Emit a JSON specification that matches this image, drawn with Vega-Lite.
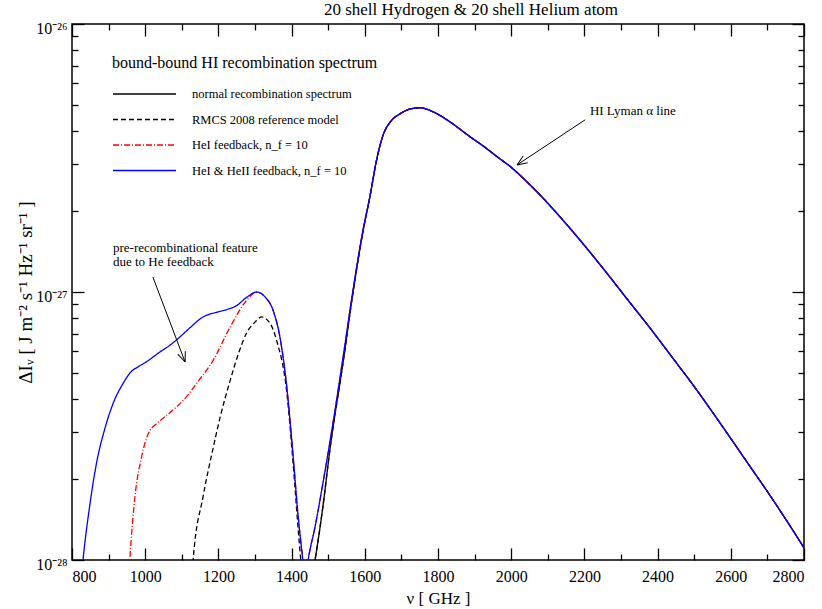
{
  "$schema": "https://vega.github.io/schema/vega-lite/v6.json",
  "width": 732,
  "height": 536,
  "autosize": "none",
  "padding": {"left": 72, "top": 24, "right": 18, "bottom": 49},
  "background": "white",
  "config": {
    "view": {"stroke": "black", "strokeWidth": 1.5},
    "font": "Liberation Serif",
    "axis": {"grid": false, "domain": false, "tickColor": "black", "labelColor": "black", "titleColor": "black", "labelFont": "Liberation Serif", "titleFont": "Liberation Serif", "titleFontWeight": "normal", "tickWidth": 1.3}
  },
  "title": {"text": "20 shell Hydrogen & 20 shell Helium atom", "anchor": "middle", "dx": 33, "offset": 1, "fontSize": 17, "font": "Liberation Serif", "fontWeight": "normal", "color": "black"},
  "resolve": {"axis": {"x": "independent", "y": "independent"}},
  "datasets": {
    "curves": [
      {"s":"N","nu":1455,"I":8.5e-29},{"s":"N","nu":1464,"I":1e-28},{"s":"N","nu":1486,"I":1.6e-28},{"s":"N","nu":1505,"I":2.6e-28},{"s":"N","nu":1541,"I":5.5e-28},{"s":"N","nu":1568,"I":1.0e-27},{"s":"N","nu":1595,"I":1.68e-27},
      {"s":"N","nu":1614,"I":2.27e-27},{"s":"N","nu":1632,"I":3.1e-27},{"s":"N","nu":1650,"I":3.85e-27},{"s":"N","nu":1672,"I":4.35e-27},{"s":"N","nu":1696,"I":4.62e-27},{"s":"N","nu":1720,"I":4.8e-27},{"s":"N","nu":1751,"I":4.87e-27},{"s":"N","nu":1787,"I":4.7e-27},{"s":"N","nu":1833,"I":4.31e-27},{"s":"N","nu":1887,"I":3.8e-27},{"s":"N","nu":1923,"I":3.51e-27},{"s":"N","nu":1960,"I":3.21e-27},{"s":"N","nu":2005,"I":2.88e-27},{"s":"N","nu":2040,"I":2.6e-27},{"s":"N","nu":2087,"I":2.24e-27},{"s":"N","nu":2133,"I":1.91e-27},{"s":"N","nu":2190,"I":1.55e-27},{"s":"N","nu":2251,"I":1.225e-27},{"s":"N","nu":2319,"I":9.33e-28},{"s":"N","nu":2371,"I":7.59e-28},{"s":"N","nu":2450,"I":5.47e-28},{"s":"N","nu":2500,"I":4.44e-28},{"s":"N","nu":2550,"I":3.56e-28},{"s":"N","nu":2600,"I":2.84e-28},{"s":"N","nu":2650,"I":2.26e-28},{"s":"N","nu":2700,"I":1.8e-28},{"s":"N","nu":2750,"I":1.42e-28},{"s":"N","nu":2800,"I":1.11e-28},

      {"s":"R","nu":1128,"I":8.5e-29},{"s":"R","nu":1131,"I":1e-28},{"s":"R","nu":1158,"I":1.72e-28},{"s":"R","nu":1186,"I":2.63e-28},{"s":"R","nu":1205,"I":3.42e-28},{"s":"R","nu":1232,"I":4.67e-28},{"s":"R","nu":1255,"I":5.9e-28},{"s":"R","nu":1277,"I":7.03e-28},{"s":"R","nu":1300,"I":7.72e-28},{"s":"R","nu":1318,"I":8.07e-28},{"s":"R","nu":1341,"I":7.65e-28},{"s":"R","nu":1359,"I":6.6e-28},{"s":"R","nu":1387,"I":4.2e-28},{"s":"R","nu":1404,"I":2.3e-28},{"s":"R","nu":1418,"I":1.3e-28},{"s":"R","nu":1425,"I":1.0e-28},{"s":"R","nu":1433,"I":8e-29},
      {"s":"R","nu":1455,"I":8.5e-29},{"s":"R","nu":1464,"I":1e-28},{"s":"R","nu":1486,"I":1.6e-28},{"s":"R","nu":1505,"I":2.6e-28},{"s":"R","nu":1541,"I":5.5e-28},{"s":"R","nu":1568,"I":1.0e-27},{"s":"R","nu":1595,"I":1.68e-27},
      {"s":"R","nu":1614,"I":2.27e-27},{"s":"R","nu":1632,"I":3.1e-27},{"s":"R","nu":1650,"I":3.85e-27},{"s":"R","nu":1672,"I":4.35e-27},{"s":"R","nu":1696,"I":4.62e-27},{"s":"R","nu":1720,"I":4.8e-27},{"s":"R","nu":1751,"I":4.87e-27},{"s":"R","nu":1787,"I":4.7e-27},{"s":"R","nu":1833,"I":4.31e-27},{"s":"R","nu":1887,"I":3.8e-27},{"s":"R","nu":1923,"I":3.51e-27},{"s":"R","nu":1960,"I":3.21e-27},{"s":"R","nu":2005,"I":2.88e-27},{"s":"R","nu":2040,"I":2.6e-27},{"s":"R","nu":2087,"I":2.24e-27},{"s":"R","nu":2133,"I":1.91e-27},{"s":"R","nu":2190,"I":1.55e-27},{"s":"R","nu":2251,"I":1.225e-27},{"s":"R","nu":2319,"I":9.33e-28},{"s":"R","nu":2371,"I":7.59e-28},{"s":"R","nu":2450,"I":5.47e-28},{"s":"R","nu":2500,"I":4.44e-28},{"s":"R","nu":2550,"I":3.56e-28},{"s":"R","nu":2600,"I":2.84e-28},{"s":"R","nu":2650,"I":2.26e-28},{"s":"R","nu":2700,"I":1.8e-28},{"s":"R","nu":2750,"I":1.42e-28},{"s":"R","nu":2800,"I":1.11e-28},

      {"s":"H1","nu":955,"I":8.5e-29},{"s":"H1","nu":958,"I":1e-28},{"s":"H1","nu":972,"I":1.72e-28},{"s":"H1","nu":990,"I":2.42e-28},{"s":"H1","nu":1013,"I":3.05e-28},{"s":"H1","nu":1027,"I":3.19e-28},{"s":"H1","nu":1059,"I":3.47e-28},{"s":"H1","nu":1086,"I":3.73e-28},{"s":"H1","nu":1113,"I":4.07e-28},{"s":"H1","nu":1141,"I":4.57e-28},{"s":"H1","nu":1186,"I":5.57e-28},{"s":"H1","nu":1232,"I":7.4e-28},{"s":"H1","nu":1277,"I":9.3e-28},{"s":"H1","nu":1305,"I":1.0e-27},
      {"s":"H1","nu":1327,"I":9.6e-28},{"s":"H1","nu":1350,"I":8.5e-28},{"s":"H1","nu":1368,"I":6.8e-28},{"s":"H1","nu":1387,"I":4.4e-28},{"s":"H1","nu":1404,"I":2.45e-28},{"s":"H1","nu":1418,"I":1.45e-28},{"s":"H1","nu":1428,"I":1.08e-28},{"s":"H1","nu":1437,"I":8.5e-29},{"s":"H1","nu":1445,"I":1e-28},{"s":"H1","nu":1465,"I":1.35e-28},{"s":"H1","nu":1486,"I":1.95e-28},{"s":"H1","nu":1514,"I":3.3e-28},{"s":"H1","nu":1541,"I":5.75e-28},{"s":"H1","nu":1568,"I":1.02e-27},{"s":"H1","nu":1595,"I":1.7e-27},
      {"s":"H1","nu":1614,"I":2.27e-27},{"s":"H1","nu":1632,"I":3.1e-27},{"s":"H1","nu":1650,"I":3.85e-27},{"s":"H1","nu":1672,"I":4.35e-27},{"s":"H1","nu":1696,"I":4.62e-27},{"s":"H1","nu":1720,"I":4.8e-27},{"s":"H1","nu":1751,"I":4.87e-27},{"s":"H1","nu":1787,"I":4.7e-27},{"s":"H1","nu":1833,"I":4.31e-27},{"s":"H1","nu":1887,"I":3.8e-27},{"s":"H1","nu":1923,"I":3.51e-27},{"s":"H1","nu":1960,"I":3.21e-27},{"s":"H1","nu":2005,"I":2.88e-27},{"s":"H1","nu":2040,"I":2.6e-27},{"s":"H1","nu":2087,"I":2.24e-27},{"s":"H1","nu":2133,"I":1.91e-27},{"s":"H1","nu":2190,"I":1.55e-27},{"s":"H1","nu":2251,"I":1.225e-27},{"s":"H1","nu":2319,"I":9.33e-28},{"s":"H1","nu":2371,"I":7.59e-28},{"s":"H1","nu":2450,"I":5.47e-28},{"s":"H1","nu":2500,"I":4.44e-28},{"s":"H1","nu":2550,"I":3.56e-28},{"s":"H1","nu":2600,"I":2.84e-28},{"s":"H1","nu":2650,"I":2.26e-28},{"s":"H1","nu":2700,"I":1.8e-28},{"s":"H1","nu":2750,"I":1.42e-28},{"s":"H1","nu":2800,"I":1.11e-28},

      {"s":"H2","nu":825,"I":8.5e-29},{"s":"H2","nu":830,"I":1e-28},{"s":"H2","nu":848,"I":1.58e-28},{"s":"H2","nu":867,"I":2.3e-28},{"s":"H2","nu":890,"I":3.1e-28},{"s":"H2","nu":913,"I":3.86e-28},{"s":"H2","nu":940,"I":4.57e-28},{"s":"H2","nu":962,"I":5.05e-28},{"s":"H2","nu":980,"I":5.25e-28},{"s":"H2","nu":1004,"I":5.5e-28},{"s":"H2","nu":1040,"I":5.97e-28},{"s":"H2","nu":1068,"I":6.34e-28},{"s":"H2","nu":1095,"I":6.8e-28},{"s":"H2","nu":1122,"I":7.35e-28},{"s":"H2","nu":1158,"I":8.07e-28},{"s":"H2","nu":1195,"I":8.4e-28},{"s":"H2","nu":1223,"I":8.6e-28},{"s":"H2","nu":1250,"I":8.9e-28},{"s":"H2","nu":1277,"I":9.55e-28},{"s":"H2","nu":1305,"I":1.0e-27},
      {"s":"H2","nu":1327,"I":9.6e-28},{"s":"H2","nu":1350,"I":8.5e-28},{"s":"H2","nu":1368,"I":6.8e-28},{"s":"H2","nu":1387,"I":4.4e-28},{"s":"H2","nu":1404,"I":2.45e-28},{"s":"H2","nu":1418,"I":1.45e-28},{"s":"H2","nu":1428,"I":1.08e-28},{"s":"H2","nu":1437,"I":8.5e-29},{"s":"H2","nu":1445,"I":1e-28},{"s":"H2","nu":1465,"I":1.35e-28},{"s":"H2","nu":1486,"I":1.95e-28},{"s":"H2","nu":1514,"I":3.3e-28},{"s":"H2","nu":1541,"I":5.75e-28},{"s":"H2","nu":1568,"I":1.02e-27},{"s":"H2","nu":1595,"I":1.7e-27},
      {"s":"H2","nu":1614,"I":2.27e-27},{"s":"H2","nu":1632,"I":3.1e-27},{"s":"H2","nu":1650,"I":3.85e-27},{"s":"H2","nu":1672,"I":4.35e-27},{"s":"H2","nu":1696,"I":4.62e-27},{"s":"H2","nu":1720,"I":4.8e-27},{"s":"H2","nu":1751,"I":4.87e-27},{"s":"H2","nu":1787,"I":4.7e-27},{"s":"H2","nu":1833,"I":4.31e-27},{"s":"H2","nu":1887,"I":3.8e-27},{"s":"H2","nu":1923,"I":3.51e-27},{"s":"H2","nu":1960,"I":3.21e-27},{"s":"H2","nu":2005,"I":2.88e-27},{"s":"H2","nu":2040,"I":2.6e-27},{"s":"H2","nu":2087,"I":2.24e-27},{"s":"H2","nu":2133,"I":1.91e-27},{"s":"H2","nu":2190,"I":1.55e-27},{"s":"H2","nu":2251,"I":1.225e-27},{"s":"H2","nu":2319,"I":9.33e-28},{"s":"H2","nu":2371,"I":7.59e-28},{"s":"H2","nu":2450,"I":5.47e-28},{"s":"H2","nu":2500,"I":4.44e-28},{"s":"H2","nu":2550,"I":3.56e-28},{"s":"H2","nu":2600,"I":2.84e-28},{"s":"H2","nu":2650,"I":2.26e-28},{"s":"H2","nu":2700,"I":1.8e-28},{"s":"H2","nu":2750,"I":1.42e-28},{"s":"H2","nu":2800,"I":1.11e-28}
    ],
    "anchor": [{"nu": 1000, "I": 1e-27}],
    "arrows": [
      {"a": "pre", "x": 1021, "y": 1.137e-27, "x2": 1109, "y2": 5.48e-28},
      {"a": "lya", "x": 2202, "y": 4.39e-27, "x2": 2016, "y2": 2.98e-27}
    ],
    "labels": [
      {"a": "pre", "x": 912, "y": 1.41e-27, "t": "pre-recombinational feature\ndue to He feedback"},
      {"a": "lya", "x": 2215, "y": 4.57e-27, "t": "HI Lyman α line"}
    ]
  },
  "layer": [
    {
      "data": {"name": "curves"},
      "mark": {"type": "line", "strokeWidth": 1.3, "clip": true, "interpolate": "monotone"},
      "encoding": {
        "x": {"field": "nu", "type": "quantitative", "scale": {"domain": [800, 2800], "nice": false, "zero": false},
          "axis": {"orient": "bottom", "values": [800,1000,1200,1400,1600,1800,2000,2200,2400,2600,2800], "format": "d", "tickSize": -12, "labelFont": "Liberation Serif", "labelFontSize": 16, "labelPadding": 20, "title": "ν [ GHz ]", "titleFont": "Liberation Serif", "titleFontSize": 17, "titleY": 43, "titleBaseline": "alphabetic"}},
        "y": {"field": "I", "type": "quantitative", "scale": {"type": "log", "domain": [1e-28, 1e-26], "nice": false},
          "axis": {"orient": "left", "values": [1e-28, 1e-27, 1e-26], "tickSize": -12, "labelFont": "Liberation Serif", "labelFontSize": 16, "labelPadding": 17, "labelOffset": 4, "labelExpr": "datum.value > 5e-27 ? '10⁻²⁶' : datum.value > 5e-28 ? '10⁻²⁷' : '10⁻²⁸'", "title": "ΔIᵥ [ J m⁻² s⁻¹ Hz⁻¹ sr⁻¹ ]", "titleFont": "Liberation Serif", "titleFontSize": 19, "titleX": -41, "titleY": 268, "titleBaseline": "alphabetic"}},
        "color": {"field": "s", "type": "nominal", "scale": {"domain": ["N", "R", "H1", "H2"], "range": ["black", "black", "red", "blue"]},
          "legend": {"orient": "none", "legendX": 40, "legendY": 31, "title": "bound-bound HI recombination spectrum", "titleLimit": 500, "titleFont": "Liberation Serif", "titleFontSize": 16, "titleFontWeight": "normal", "titleColor": "black", "titlePadding": 16, "labelFont": "Liberation Serif", "labelFontSize": 12.5, "labelColor": "black", "labelLimit": 400, "symbolType": "stroke", "symbolSize": 3969, "symbolStrokeWidth": 1.3, "clipHeight": 14, "rowPadding": 11.5, "labelOffset": 15,
            "labelExpr": "datum.label == 'N' ? 'normal recombination spectrum' : datum.label == 'R' ? 'RMCS 2008 reference model' : datum.label == 'H1' ? 'HeI feedback, n_f = 10' : 'HeI & HeII feedback, n_f = 10'"}},
        "strokeDash": {"field": "s", "type": "nominal", "scale": {"domain": ["N", "R", "H1", "H2"], "range": [[1, 0], [5, 3], [6, 2, 1, 2], [1, 0]]},
          "legend": {"orient": "none", "legendX": 40, "legendY": 31, "title": "bound-bound HI recombination spectrum", "titleLimit": 500, "titleFont": "Liberation Serif", "titleFontSize": 16, "titleFontWeight": "normal", "titleColor": "black", "titlePadding": 16, "labelFont": "Liberation Serif", "labelFontSize": 12.5, "labelColor": "black", "labelLimit": 400, "symbolType": "stroke", "symbolSize": 3969, "symbolStrokeWidth": 1.3, "clipHeight": 14, "rowPadding": 11.5, "labelOffset": 15,
            "labelExpr": "datum.label == 'N' ? 'normal recombination spectrum' : datum.label == 'R' ? 'RMCS 2008 reference model' : datum.label == 'H1' ? 'HeI feedback, n_f = 10' : 'HeI & HeII feedback, n_f = 10'"}}
      }
    },
    {
      "data": {"name": "anchor"},
      "mark": {"type": "point", "opacity": 0},
      "encoding": {
        "x": {"field": "nu", "type": "quantitative", "scale": {"domain": [800, 2800], "nice": false, "zero": false},
          "axis": {"orient": "bottom", "values": [900,1100,1300,1500,1700,1900,2100,2300,2500,2700], "tickSize": -6, "labels": false, "title": null}},
        "y": {"field": "I", "type": "quantitative", "scale": {"type": "log", "domain": [1e-28, 1e-26], "nice": false},
          "axis": {"orient": "left", "values": [2e-28,3e-28,4e-28,5e-28,6e-28,7e-28,8e-28,9e-28,2e-27,3e-27,4e-27,5e-27,6e-27,7e-27,8e-27,9e-27], "tickSize": -6, "labels": false, "title": null}}
      }
    },
    {
      "data": {"name": "anchor"},
      "mark": {"type": "point", "opacity": 0},
      "encoding": {
        "x": {"field": "nu", "type": "quantitative", "scale": {"domain": [800, 2800], "nice": false, "zero": false},
          "axis": {"orient": "top", "values": [800,1000,1200,1400,1600,1800,2000,2200,2400,2600,2800], "tickSize": -12, "labels": false, "title": null}},
        "y": {"field": "I", "type": "quantitative", "scale": {"type": "log", "domain": [1e-28, 1e-26], "nice": false},
          "axis": {"orient": "right", "values": [1e-28, 1e-27, 1e-26], "tickSize": -12, "labels": false, "title": null}}
      }
    },
    {
      "data": {"name": "anchor"},
      "mark": {"type": "point", "opacity": 0},
      "encoding": {
        "x": {"field": "nu", "type": "quantitative", "scale": {"domain": [800, 2800], "nice": false, "zero": false},
          "axis": {"orient": "top", "values": [900,1100,1300,1500,1700,1900,2100,2300,2500,2700], "tickSize": -6, "labels": false, "title": null}},
        "y": {"field": "I", "type": "quantitative", "scale": {"type": "log", "domain": [1e-28, 1e-26], "nice": false},
          "axis": {"orient": "right", "values": [2e-28,3e-28,4e-28,5e-28,6e-28,7e-28,8e-28,9e-28,2e-27,3e-27,4e-27,5e-27,6e-27,7e-27,8e-27,9e-27], "tickSize": -6, "labels": false, "title": null}}
      }
    },
    {
      "data": {"name": "arrows"},
      "mark": {"type": "rule", "color": "black", "strokeWidth": 1},
      "encoding": {
        "x": {"field": "x", "type": "quantitative", "axis": null},
        "y": {"field": "y", "type": "quantitative", "scale": {"type": "log"}, "axis": null},
        "x2": {"field": "x2"},
        "y2": {"field": "y2"}
      }
    },
    {
      "data": {"name": "arrows"},
      "transform": [{"filter": "datum.a == 'pre'"}],
      "mark": {"type": "point", "shape": "M0,0L-1,-0.4M0,0L-1,0.4", "size": 400, "filled": false, "stroke": "black", "strokeWidth": 1, "opacity": 1, "angle": 69.4},
      "encoding": {
        "x": {"field": "x2", "type": "quantitative", "axis": null},
        "y": {"field": "y2", "type": "quantitative", "scale": {"type": "log"}, "axis": null}
      }
    },
    {
      "data": {"name": "arrows"},
      "transform": [{"filter": "datum.a == 'lya'"}],
      "mark": {"type": "point", "shape": "M0,0L-1,-0.4M0,0L-1,0.4", "size": 400, "filled": false, "stroke": "black", "strokeWidth": 1, "opacity": 1, "angle": 146.5},
      "encoding": {
        "x": {"field": "x2", "type": "quantitative", "axis": null},
        "y": {"field": "y2", "type": "quantitative", "scale": {"type": "log"}, "axis": null}
      }
    },
    {
      "data": {"name": "labels"},
      "mark": {"type": "text", "align": "left", "baseline": "alphabetic", "font": "Liberation Serif", "fontSize": 13, "color": "black", "lineBreak": "\n", "lineHeight": 14},
      "encoding": {
        "x": {"field": "x", "type": "quantitative", "axis": null},
        "y": {"field": "y", "type": "quantitative", "scale": {"type": "log"}, "axis": null},
        "text": {"field": "t", "type": "nominal"}
      }
    }
  ]
}
